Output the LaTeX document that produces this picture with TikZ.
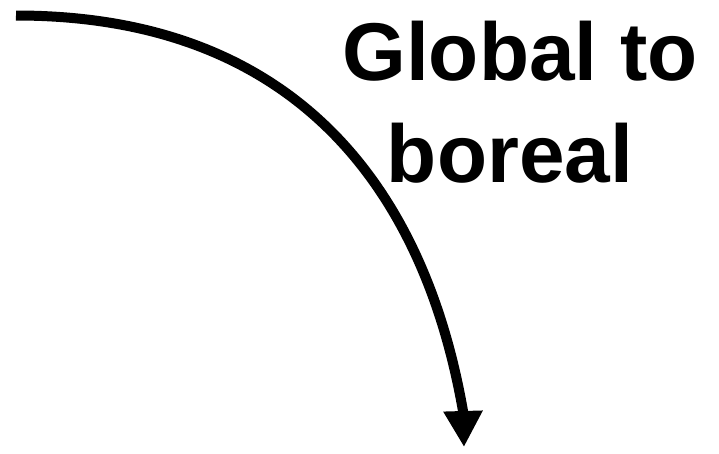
\documentclass[tikz,border=0pt]{standalone}
\usepackage{fontspec}
\setmainfont{Liberation Sans}
\usetikzlibrary{arrows.meta}
\begin{document}
\begin{tikzpicture}[x=1pt,y=-1pt,
  bigtext/.style={font=\fontsize{82}{90}\selectfont\bfseries, anchor=base, inner sep=0pt},
  curvearrow/.style={line width=10pt, -{Triangle[width=37pt,length=36pt]}}]
\useasboundingbox (0,0) rectangle (719,453);
\coordinate (start) at (16,15.5);
\coordinate (bend) at (463,411);
\coordinate (tip) at (464,447);
\draw[curvearrow] (start) .. controls (300,15.5) and (425,194) .. (bend) -- (tip);
\node[bigtext] (l1) at (520,80) {Global to};
\node[bigtext] (l2) at (510,182) {boreal};
\end{tikzpicture}
\end{document}
